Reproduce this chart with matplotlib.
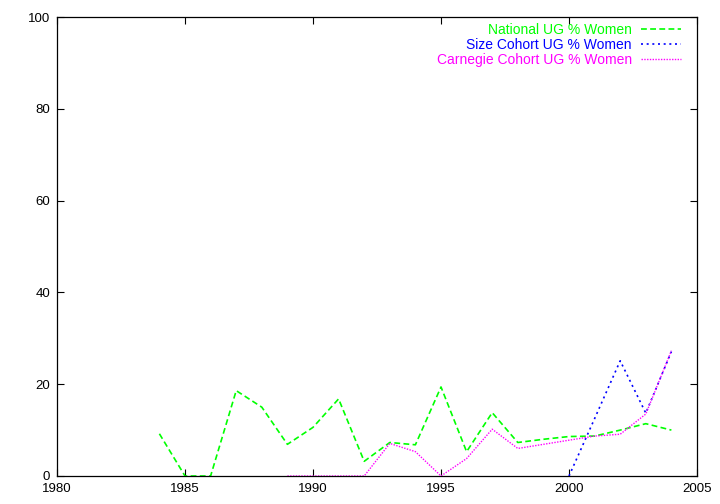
import numpy as np
import matplotlib
matplotlib.use('Agg')
import matplotlib.pyplot as plt

plt.rcParams['font.family'] = ['Liberation Sans', 'DejaVu Sans']

# National UG % Women
nat_years = [1984, 1985, 1986, 1987, 1988, 1989, 1990, 1991, 1992, 1993, 1994,
             1995, 1996, 1997, 1998, 1999, 2000, 2001, 2002, 2003, 2004]
nat_vals = [9.2, 0, 0, 18.6, 15.0, 6.9, 10.6, 16.8, 3.2, 7.3, 6.8,
            19.4, 5.3, 13.8, 7.3, 8.0, 8.6, 8.7, 10.0, 11.4, 10.0]

# Size Cohort UG % Women
size_years = [2000, 2001, 2002, 2003, 2004]
size_vals = [0, 12.5, 25.1, 13.7, 27.1]

# Carnegie Cohort UG % Women
carn_years = [1989, 1990, 1991, 1992, 1993, 1994, 1995, 1996, 1997, 1998,
              1999, 2000, 2001, 2002, 2003, 2004]
carn_vals = [0, 0, 0, 0, 7.1, 5.3, 0, 3.8, 10.2, 6.0,
             6.9, 7.8, 8.7, 9.1, 13.5, 27.3]

fig = plt.figure(figsize=(7.2, 5.04), dpi=100)
ax = fig.add_axes([57/720, 1-476/504, 640/720, 459/504])

ax.plot(nat_years, nat_vals, color='#00ff00', lw=1.2, dashes=(3.5, 2),
        label='National UG % Women')
ax.plot(size_years, size_vals, color='#0000ff', lw=1.2, dashes=(1.2, 2.2),
        label='Size Cohort UG % Women')
ax.plot(carn_years, carn_vals, color='#ff00ff', lw=1.0, dashes=(1, 1),
        label='Carnegie Cohort UG % Women')

ax.set_xlim(1980, 2005)
ax.set_ylim(0, 100)
ax.set_xticks(np.arange(1980, 2006, 5))
ax.set_yticks(np.arange(0, 101, 20))
ax.tick_params(direction='in', top=True, right=True, length=5, width=0.8,
               labelsize=9.5, pad=5)
for s in ax.spines.values():
    s.set_linewidth(0.9)

leg = ax.legend(loc='upper right', markerfirst=False, frameon=False,
                labelcolor='linecolor', fontsize=10, handlelength=2.9,
                handletextpad=0.65, labelspacing=0.08, borderpad=0,
                borderaxespad=0, bbox_to_anchor=((681-57)/640, (476-23)/459))

fig.savefig('out.png', dpi=100)
